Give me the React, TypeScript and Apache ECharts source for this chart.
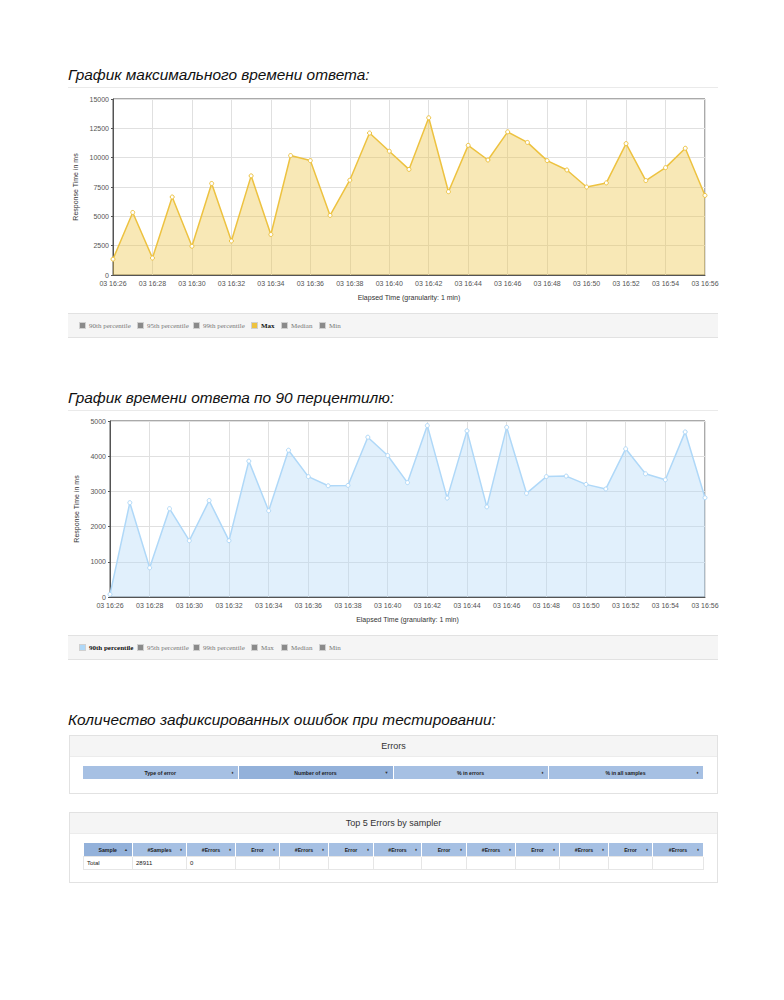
import React, { useEffect, useRef } from "react";
import * as echarts from "echarts";

const categories = [
  "03 16:26", "03 16:27", "03 16:28", "03 16:29", "03 16:30", "03 16:31", "03 16:32", "03 16:33",
  "03 16:34", "03 16:35", "03 16:36", "03 16:37", "03 16:38", "03 16:39", "03 16:40", "03 16:41",
  "03 16:42", "03 16:43", "03 16:44", "03 16:45", "03 16:46", "03 16:47", "03 16:48", "03 16:49",
  "03 16:50", "03 16:51", "03 16:52", "03 16:53", "03 16:54", "03 16:55", "03 16:56",
];

const maxValues = [
  1350, 5330, 1450, 6650, 2450, 7800, 2900, 8450, 3450, 10180, 9750,
  5080, 8080, 12100, 10550, 9000, 13400, 7100, 11050, 9800, 12200,
  11300, 9750, 8950, 7500, 7850, 11200, 8050, 9150, 10800, 6780,
];

const p90Values = [
  75, 2680, 830, 2510, 1600, 2740, 1600, 3860, 2450, 4170, 3420,
  3160, 3170, 4540, 4020, 3250, 4870, 2810, 4720, 2560, 4820,
  2945, 3420, 3435, 3200, 3070, 4210, 3500, 3330, 4690, 2820,
];

const legendNames = ["90th percentile", "95th percentile", "99th percentile", "Max", "Median", "Min"];

const errorsColumns = ["Type of error", "Number of errors", "% in errors", "% in all samples"];
const top5Columns = ["Sample", "#Samples", "#Errors", "Error", "#Errors", "Error", "#Errors", "Error", "#Errors", "Error", "#Errors", "Error", "#Errors"];
const top5Row = ["Total", "28911", "0", "", "", "", "", "", "", "", "", "", ""];

const FONT = "'Liberation Sans', Arial, sans-serif";
// page coordinates minus the 8px body margin
const OX = 8;
const OY = 8;

function buildOption(values: number[], max: number, interval: number, color: string, gridLeft: number, nameGap: number) {
  return {
    animation: false,
    grid: {
      left: gridLeft, right: 43, top: 9, bottom: 30,
      outerBoundsMode: "none",
      containLabel: false,
      show: true, borderColor: "#545454", borderWidth: 1,
    },
    xAxis: {
      type: "category",
      data: categories,
      boundaryGap: false,
      name: "Elapsed Time (granularity: 1 min)",
      nameLocation: "middle",
      nameGap: 19,
      nameTextStyle: { fontSize: 7, color: "#333", fontFamily: FONT },
      axisLine: { lineStyle: { color: "#545454", width: 1 } },
      axisTick: { show: false },
      axisLabel: { interval: 1, fontSize: 7, color: "#545454", margin: 5, fontFamily: FONT },
      splitLine: { show: true, interval: 1, lineStyle: { color: "#e0e0e0", width: 1 } },
    },
    yAxis: {
      type: "value",
      min: 0,
      max,
      interval,
      name: "Response Time in ms",
      nameLocation: "middle",
      nameGap,
      nameRotate: 90,
      nameTextStyle: { fontSize: 7, color: "#333", fontFamily: FONT },
      axisLine: { show: true, lineStyle: { color: "#545454", width: 1 } },
      axisTick: { show: true, length: 2, lineStyle: { color: "#545454" } },
      axisLabel: { fontSize: 7, color: "#545454", margin: 4, fontFamily: FONT, formatter: (v: number) => String(v) },
      splitLine: { show: true, lineStyle: { color: "#e0e0e0", width: 1 } },
    },
    series: [
      {
        type: "line",
        data: values,
        symbol: "circle",
        symbolSize: 4,
        showSymbol: true,
        lineStyle: { color, width: 1.5 },
        itemStyle: { color: "#ffffff", borderColor: color, borderWidth: 1 },
        areaStyle: { color, opacity: 0.38 },
      },
    ],
  };
}

function Chart({ top, option }: { top: number; option: any }) {
  const ref = useRef<HTMLDivElement>(null);
  useEffect(() => {
    if (!ref.current) return;
    const chart = echarts.init(ref.current, undefined, { renderer: "svg" });
    chart.setOption(option);
    return () => chart.dispose();
  }, []);
  return <div ref={ref} style={{ position: "absolute", left: 68 - OX, top: top - OY, width: 680, height: 215 }} />;
}

const legendX = [11, 69, 125, 183, 213, 251];

function Legend({ top, active, activeColor }: { top: number; active: number; activeColor: string }) {
  return (
    <div style={{ position: "absolute", left: 68 - OX, top: top - OY, width: 650, height: 23, background: "#f5f5f5", borderTop: "1px solid #e2e2e2", borderBottom: "1px solid #e2e2e2" }}>
      {legendNames.map((n, i) => (
        <div key={i} style={{ position: "absolute", left: legendX[i], top: 7, height: 9, display: "flex", alignItems: "center", whiteSpace: "nowrap" }}>
          <div style={{ width: 5, height: 5, border: "1px solid #d0d0d0", background: i === active ? activeColor : "#8a8a8a", marginRight: 3 }} />
          <span style={{ fontFamily: "'Liberation Serif', 'Times New Roman', serif", fontSize: 7, color: i === active ? "#111" : "#777", fontWeight: i === active ? "bold" : "normal" }}>{n}</span>
        </div>
      ))}
    </div>
  );
}

function Heading({ top, text, line }: { top: number; text: string; line: boolean }) {
  return (
    <div>
      <div style={{ position: "absolute", left: 68 - OX, top: top - OY, fontFamily: FONT, fontStyle: "italic", fontSize: 15.4, lineHeight: "20px", color: "#111", whiteSpace: "nowrap" }}>{text}</div>
      {line ? <div style={{ position: "absolute", left: 68 - OX, top: top + 22 - OY, width: 650, height: 1, background: "#eaeaea" }} /> : null}
    </div>
  );
}

function sortIcon(i: number, sortedIdx: number, asc: boolean) {
  if (i === sortedIdx) return asc ? "\u25B2" : "\u25BC";
  return "\u2666";
}

function Panel({ top, height, title, columns, widths, sortedIdx, asc, row }: { top: number; height: number; title: string; columns: string[]; widths: number[]; sortedIdx: number; asc: boolean; row?: string[] }) {
  return (
    <div style={{ position: "absolute", left: 69 - OX, top: top - OY, width: 647, height, border: "1px solid #e2e2e2", background: "#fff", fontFamily: FONT }}>
      <div style={{ height: 20, background: "#f5f5f5", borderBottom: "1px solid #ececec", textAlign: "center", lineHeight: "20px", fontSize: 9, color: "#333" }}>{title}</div>
      <table style={{ position: "absolute", left: 13, top: 30, width: 620, borderCollapse: "collapse", tableLayout: "fixed" }}>
        <colgroup>
          {widths.map((w, i) => <col key={i} style={{ width: w }} />)}
        </colgroup>
        <thead>
          <tr>
            {columns.map((c, i) => (
              <th key={i} style={{ height: 13, padding: 0, background: i === sortedIdx ? "#93b1da" : "#a6c0e3", borderRight: "1px solid #fff", fontSize: 5.2, fontWeight: "bold", color: "#1a1a1a", position: "relative", textAlign: "center" }}>
                {c}
                <span style={{ position: "absolute", right: 4, top: 0, lineHeight: "13px", fontSize: 4, color: "#333" }}>{sortIcon(i, sortedIdx, asc)}</span>
              </th>
            ))}
          </tr>
        </thead>
        {row ? (
          <tbody>
            <tr>
              {row.map((v, i) => (
                <td key={i} style={{ height: 12, padding: "0 3px", border: "1px solid #e6e6e6", fontSize: 6, color: "#222", textAlign: "left" }}>{v}</td>
              ))}
            </tr>
          </tbody>
        ) : null}
      </table>
    </div>
  );
}

const errorsWidths = [155, 155, 155, 155];
const top5Widths = [49, 54, 49, 44, 49, 45, 48, 45, 49, 44, 49, 44, 51];

export default function App() {
  const opt1 = buildOption(maxValues, 15000, 2500, "#edc240", 45, 30);
  const opt2 = buildOption(p90Values, 5000, 1000, "#afd8f8", 42, 27);
  return (
    <div style={{ position: "relative", width: 768, height: 984, background: "#fff" }}>
      <Heading top={65} text="График максимального времени ответа:" line={true} />
      <Chart top={90} option={opt1} />
      <Legend top={313} active={3} activeColor="#edc240" />

      <Heading top={388} text="График времени ответа по 90 перцентилю:" line={true} />
      <Chart top={412} option={opt2} />
      <Legend top={635} active={0} activeColor="#afd8f8" />

      <Heading top={710} text="Количество зафиксированных ошибок при тестировании:" line={false} />
      <Panel top={735} height={57} title="Errors" columns={errorsColumns} widths={errorsWidths} sortedIdx={1} asc={false} />
      <Panel top={812} height={69} title="Top 5 Errors by sampler" columns={top5Columns} widths={top5Widths} sortedIdx={0} asc={true} row={top5Row} />
    </div>
  );
}
